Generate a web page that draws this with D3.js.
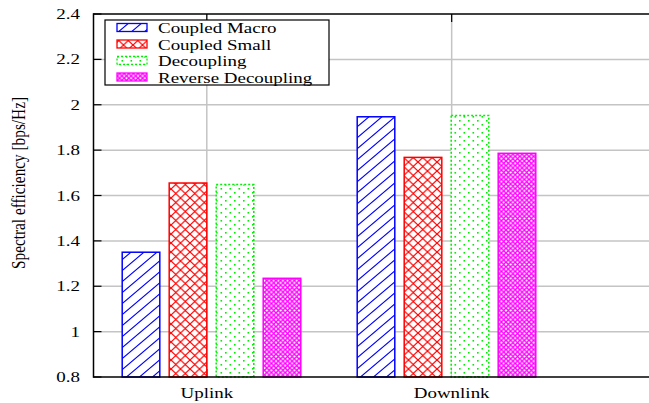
<!DOCTYPE html>
<html><head><meta charset="utf-8">
<script src="https://cdn.jsdelivr.net/npm/d3@7"></script>
<style>html,body{margin:0;padding:0;background:#fff;overflow:hidden}</style>
</head><body>
<script>
const categories = ["Uplink", "Downlink"];
const seriesNames = ["Coupled Macro", "Coupled Small", "Decoupling", "Reverse Decoupling"];
const coupledMacro = [1.35, 1.947];
const coupledSmall = [1.655, 1.768];
const decoupling = [1.648, 1.953];
const reverseDecoupling = [1.235, 1.786];
const yTicks = [0.8, 1, 1.2, 1.4, 1.6, 1.8, 2, 2.2, 2.4];
const xTickPos = [-0.02, 1.022];
const yLabel = "Spectral efficiency [bps/Hz]";

const seriesValues = [coupledMacro, coupledSmall, decoupling, reverseDecoupling];
const colors = ["#0000ff", "#ff0000", "#00ee00", "#ff00ff"];
const patIds = ["pBlue", "pRed", "pGreen", "pMag"];

const W = 649, H = 403;
const svg = d3.select("body").append("svg").attr("width", W).attr("height", H);
const font = "'Liberation Serif','Times New Roman',serif";
const FS = 15.3, SX = 1.24;

const x = d3.scaleLinear().domain([-0.5, 2]).range([94, 681.5]);
const y = d3.scaleLinear().domain([0.8, 2.4]).range([377, 14]);
const left = 93.5;

// patterns
const defs = svg.append("defs");
let p = defs.append("pattern").attr("id", "pBlue").attr("patternUnits", "userSpaceOnUse").attr("width", 13).attr("height", 11);
p.append("rect").attr("width", 13).attr("height", 11).attr("fill", "#fff");
p.append("path").attr("d", "M0,11 L13,0 M-6.5,5.5 L6.5,-5.5 M6.5,16.5 L19.5,5.5").attr("stroke", colors[0]).attr("stroke-width", 1.1);

p = defs.append("pattern").attr("id", "pRed").attr("patternUnits", "userSpaceOnUse").attr("width", 9.5).attr("height", 9);
p.append("rect").attr("width", 9.5).attr("height", 9).attr("fill", "#fff");
p.append("path").attr("d", "M0,0 L9.5,9 M9.5,0 L0,9").attr("stroke", colors[1]).attr("stroke-width", 1.2);

p = defs.append("pattern").attr("id", "pGreen").attr("patternUnits", "userSpaceOnUse").attr("width", 9).attr("height", 8);
p.append("rect").attr("width", 9).attr("height", 8).attr("fill", "#fff");
p.append("rect").attr("x", 0).attr("y", 0).attr("width", 1.6).attr("height", 1.6).attr("fill", colors[2]);
p.append("rect").attr("x", 4.5).attr("y", 4).attr("width", 1.6).attr("height", 1.6).attr("fill", colors[2]);

p = defs.append("pattern").attr("id", "pMag").attr("patternUnits", "userSpaceOnUse").attr("width", 4.6).attr("height", 4.6);
p.append("rect").attr("width", 4.6).attr("height", 4.6).attr("fill", "#fff");
p.append("path").attr("d", "M0,0 L4.6,4.6 M4.6,0 L0,4.6").attr("stroke", colors[3]).attr("stroke-width", 1.4);

// grid
const g = svg.append("g");
g.selectAll(".hg").data(yTicks.slice(1, -1)).join("line")
  .attr("x1", left).attr("x2", W).attr("y1", d => y(d)).attr("y2", d => y(d))
  .attr("stroke", "#c4c4c4").attr("stroke-width", 1.5);
g.selectAll(".vg").data(xTickPos).join("line")
  .attr("x1", d => x(d)).attr("x2", d => x(d)).attr("y1", y(2.4)).attr("y2", y(0.8))
  .attr("stroke", "#c4c4c4").attr("stroke-width", 1.5);

// ticks (inward)
g.selectAll(".yt").data(yTicks).join("line")
  .attr("x1", left).attr("x2", left + 8).attr("y1", d => y(d)).attr("y2", d => y(d))
  .attr("stroke", "#000").attr("stroke-width", 1.2);
g.selectAll(".xt").data(xTickPos).join("line")
  .attr("x1", d => x(d)).attr("x2", d => x(d)).attr("y1", y(2.4)).attr("y2", y(2.4) + 8)
  .attr("stroke", "#000").attr("stroke-width", 1.2);
g.selectAll(".xb").data(xTickPos).join("line")
  .attr("x1", d => x(d)).attr("x2", d => x(d)).attr("y1", y(0.8)).attr("y2", y(0.8) - 8)
  .attr("stroke", "#000").attr("stroke-width", 1.2);

// bars
const bw = x(0.16) - x(0);
seriesValues.forEach((vals, j) => {
  svg.append("g").selectAll("rect").data(vals).join("rect")
    .attr("x", (d, i) => x(i + (j - 1.5) * 0.2) - bw / 2)
    .attr("width", bw)
    .attr("y", d => y(d))
    .attr("height", d => y(0.8) - y(d))
    .attr("fill", `url(#${patIds[j]})`)
    .attr("stroke", colors[j])
    .attr("stroke-width", 1.5)
    .attr("stroke-dasharray", j === 2 ? "2,2" : null);
});

// axes frame
svg.append("line").attr("x1", left).attr("x2", W).attr("y1", y(2.4)).attr("y2", y(2.4)).attr("stroke", "#000").attr("stroke-width", 1.5);
svg.append("line").attr("x1", left).attr("x2", W).attr("y1", y(0.8)).attr("y2", y(0.8)).attr("stroke", "#000").attr("stroke-width", 1.5);
svg.append("line").attr("x1", left).attr("x2", left).attr("y1", y(2.4) - 0.75).attr("y2", y(0.8) + 0.75).attr("stroke", "#000").attr("stroke-width", 1.5);

// y tick labels
svg.append("g").selectAll("text").data(yTicks).join("text")
  .attr("transform", d => `translate(80,${y(d) + 5}) scale(${SX},1)`)
  .attr("text-anchor", "end").attr("font-family", font).attr("font-size", FS)
  .text(d => d3.format("")(d));

// x labels
svg.append("g").selectAll("text").data(categories).join("text")
  .attr("transform", (d, i) => `translate(${x(xTickPos[i])},398) scale(${SX},1)`)
  .attr("text-anchor", "middle").attr("font-family", font).attr("font-size", FS)
  .text(d => d);

// y label
svg.append("text")
  .attr("transform", `translate(25,183) rotate(-90) scale(1,${SX})`)
  .attr("text-anchor", "middle").attr("font-family", font).attr("font-size", FS)
  .text(yLabel);

// legend
const lg = svg.append("g");
lg.append("rect").attr("x", 105).attr("y", 20).attr("width", 224).attr("height", 65)
  .attr("fill", "#fff").attr("stroke", "#000").attr("stroke-width", 1.2);
seriesNames.forEach((name, j) => {
  const base = 33 + j * 16.5;
  lg.append("rect").attr("x", 117).attr("y", base - 9.5).attr("width", 30).attr("height", 8)
    .attr("fill", `url(#${patIds[j]})`).attr("stroke", colors[j]).attr("stroke-width", 1.3)
    .attr("stroke-dasharray", j === 2 ? "2,2" : null);
  lg.append("text").attr("transform", `translate(158,${base}) scale(${SX},1)`)
    .attr("font-family", font).attr("font-size", FS).text(name);
});
</script>
</body></html>
